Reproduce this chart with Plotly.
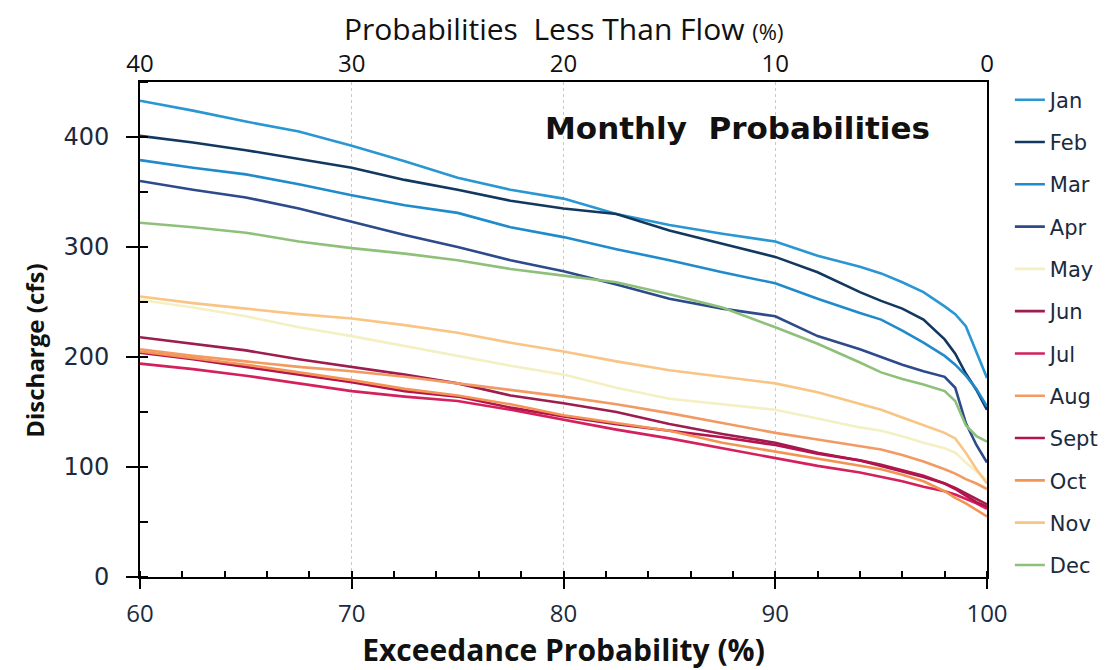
import plotly.graph_objects as go

# Exceedance probability (%) sample points
exceed = [60, 62.5, 65, 67.5, 70, 72.5, 75, 77.5, 80, 82.5, 85, 87.5, 90, 92, 94, 95, 96, 97, 98, 98.5, 99, 99.5, 100]

months = ["Jan", "Feb", "Mar", "Apr", "May", "Jun", "Jul", "Aug", "Sept", "Oct", "Nov", "Dec"]

jan = [433, 424, 414, 405, 392, 378, 363, 352, 344, 330, 320, 312, 305, 292, 282, 276, 268, 259, 246, 239, 228, 205, 181]
feb = [401, 395, 388, 380, 372, 361, 352, 342, 335, 330, 315, 303, 291, 277, 259, 251, 244, 234, 216, 203, 185, 170, 152]
mar = [379, 372, 366, 357, 347, 338, 331, 318, 309, 298, 288, 277, 267, 253, 240, 234, 224, 213, 201, 193, 183, 171, 155]
apr = [360, 352, 345, 335, 323, 311, 300, 288, 278, 266, 253, 244, 237, 219, 207, 200, 193, 187, 182, 172, 140, 120, 104]
may = [252, 245, 237, 227, 219, 210, 201, 192, 184, 172, 162, 157, 152, 144, 136, 133, 128, 122, 117, 113, 104, 96, 88]
jun = [218, 212, 206, 198, 191, 184, 176, 165, 158, 150, 139, 130, 122, 113, 106, 101, 96, 91, 85, 81, 76, 71, 66]
jul = [194, 189, 183, 176, 169, 164, 160, 152, 143, 134, 126, 117, 108, 101, 95, 91, 87, 82, 78, 75, 71, 67, 62]
aug = [207, 201, 196, 191, 187, 182, 176, 170, 164, 157, 149, 140, 131, 125, 119, 116, 111, 105, 98, 94, 89, 85, 80]
sep = [204, 198, 191, 184, 177, 169, 164, 154, 146, 139, 133, 127, 120, 112, 106, 102, 97, 92, 85, 80, 74, 68, 64]
oct_ = [205, 199, 193, 186, 179, 171, 165, 157, 147, 140, 133, 122, 114, 107, 101, 98, 93, 87, 78, 72, 67, 61, 55]
nov = [255, 249, 244, 239, 235, 229, 222, 213, 205, 196, 188, 182, 176, 168, 157, 152, 145, 138, 131, 126, 113, 98, 85]
dec = [322, 318, 313, 305, 299, 294, 288, 280, 274, 268, 257, 245, 227, 212, 195, 186, 180, 175, 169, 160, 138, 128, 123]

series = [jan, feb, mar, apr, may, jun, jul, aug, sep, oct_, nov, dec]
colors = ["#2a96d2", "#12385f", "#1f8bcb", "#2d4a8a", "#f5efc4", "#9c1d4e",
          "#d4215c", "#f29a63", "#b5134d", "#f39455", "#f8c584", "#8ec07a"]

bottom_ticks = [60, 70, 80, 90, 100]
top_ticks = [40, 30, 20, 10, 0]
y_ticks = [0, 100, 200, 300, 400]

fig = go.Figure()
for name, vals, col in zip(months, series, colors):
    fig.add_trace(go.Scatter(x=exceed, y=vals, name=name, mode="lines",
                             line=dict(color=col, width=2.6),
                             legendgroup=name))

# empty traces so the secondary axes are drawn
fig.add_trace(go.Scatter(x=[], y=[], xaxis="x2", showlegend=False, hoverinfo="skip"))
fig.add_trace(go.Scatter(x=[], y=[], yaxis="y2", showlegend=False, hoverinfo="skip"))

tick_font_color = "#1b2a3c"

fig.update_layout(
    width=1103, height=662,
    paper_bgcolor="white", plot_bgcolor="white",
    margin=dict(l=132, r=124, t=74, b=93, autoexpand=False),
    showlegend=True,
    legend=dict(x=1.027, y=1.005, xanchor="left", yanchor="top",
                font=dict(family="DejaVu Sans", size=21, color="#1b2a3c"),
                tracegroupgap=12, bgcolor="rgba(0,0,0,0)", itemwidth=30,
                maxheight=640),
    xaxis=dict(range=[60, 100], tickvals=bottom_ticks, ticks="outside", ticklen=10,
               tickwidth=2, tickcolor="black", showline=True, linecolor="black",
               linewidth=2, mirror=True, showgrid=True, gridcolor="#c9c9d6",
               griddash="dot", gridwidth=1, zeroline=False, automargin=False,
               minor=dict(dtick=2, ticks="inside", ticklen=6, tickwidth=1.5,
                          tickcolor="black", showgrid=False),
               tickfont=dict(family="Open Sans", size=24, color=tick_font_color),
               ticklabelstandoff=4,
               title=dict(text="<b>Exceedance Probability (%)</b>",
                          font=dict(family="Open Sans", size=30, color="#111"),
                          standoff=8)),
    xaxis2=dict(overlaying="x", side="top", anchor="y", range=[40, 0],
                tickvals=top_ticks, ticks="", showline=False, showgrid=False,
                zeroline=False, ticklabelstandoff=4, automargin=False,
                tickfont=dict(family="Open Sans", size=24, color="#111")),
    yaxis=dict(range=[0, 450], tickvals=y_ticks, ticks="outside", ticklen=12,
               tickwidth=2, tickcolor="black", showline=True, linecolor="black",
               linewidth=2, mirror=True, showgrid=False, zeroline=False,
               automargin=False,
               minor=dict(dtick=50, ticks="inside", ticklen=8, tickwidth=1.5,
                          tickcolor="black", showgrid=False),
               tickfont=dict(family="DejaVu Sans", size=24, color=tick_font_color),
               ticklabelstandoff=12),
    yaxis2=dict(overlaying="y", side="left", anchor="x", range=[0, 450],
                tickvals=y_ticks, ticks="inside", ticklen=8, tickwidth=2,
                tickcolor="black", showticklabels=False, showline=False,
                showgrid=False, zeroline=False, automargin=False),
    annotations=[
        dict(text="Probabilities  Less Than Flow <span style='font-size:22px'>(%)</span>",
             xref="paper", yref="paper", x=0.5, y=1.109, xanchor="center",
             yanchor="middle", showarrow=False,
             font=dict(family="Open Sans", size=30, color="#111")),
        dict(text="<b>Monthly  Probabilities</b>", xref="paper", yref="paper",
             x=0.705, y=0.907, xanchor="center", yanchor="middle", showarrow=False,
             font=dict(family="DejaVu Sans", size=31, color="#111")),
        dict(text="<b>Discharge (cfs)</b>", xref="paper", yref="paper",
             x=-0.124, y=0.457, xanchor="center", yanchor="middle", showarrow=False,
             textangle=-90, font=dict(family="Open Sans", size=24, color="#111")),
    ],
)

fig.write_html("out.html")
